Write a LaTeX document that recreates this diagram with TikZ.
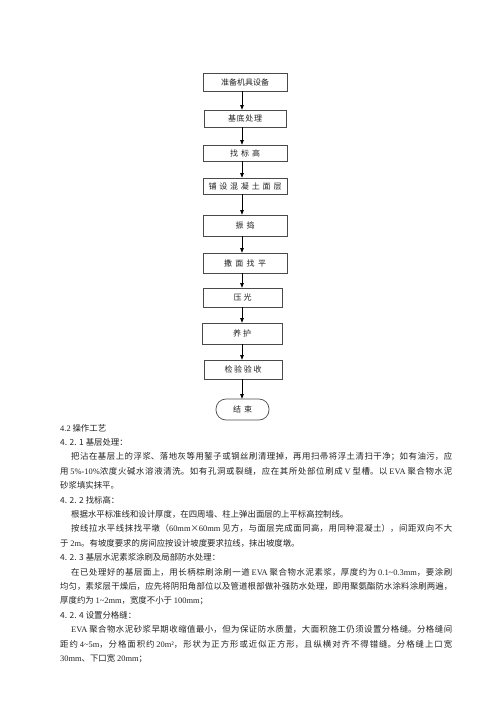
\documentclass[tikz,border=0pt]{standalone}
\usepackage{fontspec}
\setmainfont{Noto Sans CJK SC}
\newfontfamily\latfont{Liberation Serif}
\newcommand\lat[1]{{\latfont #1}}
\newcommand\stretchto[2]{\parbox{#1}{\XeTeXlinebreakskip=0pt plus 1fil\parfillskip=0pt #2}}
\XeTeXlinebreaklocale "zh"
\usetikzlibrary{arrows.meta,positioning}
\definecolor{boxgray}{HTML}{4A4A4A}
\definecolor{inkgray}{HTML}{222222}

\tikzset{
  proc/.style={draw=boxgray, line width=0.7pt, minimum width=84pt, minimum height=19pt,
    inner sep=0pt, text=inkgray, font=\fontsize{8}{9}\selectfont},
  arr/.style={-{Triangle[length=4.5pt,width=3.5pt]}, line width=0.6pt},
  body/.style={anchor=west, inner sep=0pt, text=inkgray, font=\fontsize{8.4}{10}\selectfont}
}

\begin{document}
\begin{tikzpicture}[x=1pt,y=-1pt]
      \useasboundingbox (0,0) rectangle (500,707);
      \coordinate (axis) at (242,0);

      % Flow chart
      \node[proc, minimum height=18pt] (prep) at (245,82) {\stretchto{48pt}{准备机具设备}};
      \node[proc, minimum width=82pt, minimum height=17pt] (base) at (245,118.5) {\stretchto{34pt}{基底处理}};
      \node[proc, minimum height=16pt] (level) at (245,153) {\stretchto{30pt}{找标高}};
      \node[proc, minimum height=16pt] (pave) at (245,186) {\stretchto{73pt}{铺设混凝土面层}};
      \node[proc, minimum height=21pt] (vib) at (245,225.5) {\stretchto{19pt}{振捣}};
      \node[proc, minimum height=20pt] (trowel) at (245,263) {\stretchto{42pt}{撒面找平}};
      \node[proc, minimum width=79pt] (press) at (242.5,297.5) {\stretchto{18pt}{压光}};
      \node[proc, minimum width=80pt, minimum height=21pt] (cure) at (242,333.5) {\stretchto{18pt}{养护}};
      \node[proc, minimum width=78pt] (check) at (243,369.5) {\stretchto{37pt}{检验验收}};
      \node[proc, minimum width=53pt, minimum height=21pt, rounded corners=10pt] (stop) at (242.5,409.5) {\stretchto{19pt}{结束}};

      % Arrows
      \draw[arr] (prep.south -| axis) -- (base.north -| axis);
      \draw[arr] (base.south -| axis) -- (level.north -| axis);
      \draw[arr] (level.south -| axis) -- (pave.north -| axis);
      \draw[arr] (pave.south -| axis) -- (vib.north -| axis);
      \draw[arr] (vib.south -| axis) -- (trowel.north -| axis);
      \draw[arr] (trowel.south -| axis) -- (press.north -| axis);
      \draw[arr] (press.south -| axis) -- (cure.north -| axis);
      \draw[arr] (cure.south -| axis) -- (check.north -| axis);
      \draw[arr] (check.south -| axis) -- (stop.north -| axis);

      % 4.2 text
      \node[body] (h0) at (60,428) {\lat{4.2} 操作工艺};
      \node[body] (h1) at (60,442.4) {4. 2. 1 基层处理：};
      \node[body] (p1) at (71,456.8) {\stretchto{381pt}{把沾在基层上的浮浆、落地灰等用錾子或钢丝刷清理掉，再用扫帚将浮土清扫干净；如有油污，应}};
      \node[body] (p2) at (60,471.2) {\stretchto{392pt}{用 \lat{5\%-10\%}浓度火碱水溶液清洗。如有孔洞或裂缝，应在其所处部位刷成 \lat{V} 型槽。以 \lat{EVA} 聚合物水泥}};
      \node[body] (p3) at (60,485.6) {砂浆填实抹平。};
      \node[body] (h2) at (60,500) {4. 2. 2 找标高：};
      \node[body] (p4) at (71,514.4) {根据水平标准线和设计厚度，在四周墙、柱上弹出面层的上平标高控制线。};
      \node[body] (p5) at (71,528.8) {\stretchto{381pt}{按线拉水平线抹找平墩（\lat{60mm}×\lat{60mm} 见方，与面层完成面同高，用同种混凝土），间距双向不大}};
      \node[body] (p6) at (60,543.2) {于 \lat{2m}。有坡度要求的房间应按设计坡度要求拉线，抹出坡度墩。};
      \node[body] (h3) at (60,557.6) {4. 2. 3 基层水泥素浆涂刷及局部防水处理：};
      \node[body] (p7) at (71,572) {\stretchto{381pt}{在已处理好的基层面上，用长柄棕刷涂刷一道 \lat{EVA} 聚合物水泥素浆，厚度约为 \lat{0.1\textasciitilde0.3mm}，要涂刷}};
      \node[body] (p8) at (60,586.4) {\stretchto{392pt}{均匀，素浆层干燥后，应先将阴阳角部位以及管道根部做补强防水处理，即用聚氨酯防水涂料涂刷两遍，}};
      \node[body] (p9) at (60,600.8) {厚度约为 \lat{1\textasciitilde2mm}，宽度不小于 \lat{100mm}；};
      \node[body] (h4) at (60,615.2) {4. 2. 4 设置分格缝：};
      \node[body] (p10) at (71,629.6) {\stretchto{381pt}{\lat{EVA} 聚合物水泥砂浆早期收缩值最小，但为保证防水质量，大面积施工仍须设置分格缝。分格缝间}};
      \node[body] (p11) at (60,644) {\stretchto{392pt}{距约 \lat{4\textasciitilde5m}，分格面积约 \lat{20m²}，形状为正方形或近似正方形，且纵横对齐不得错缝。分格缝上口宽}};
      \node[body] (p12) at (60,658.4) {\lat{30mm}、下口宽 \lat{20mm}；};
\end{tikzpicture}
\end{document}
